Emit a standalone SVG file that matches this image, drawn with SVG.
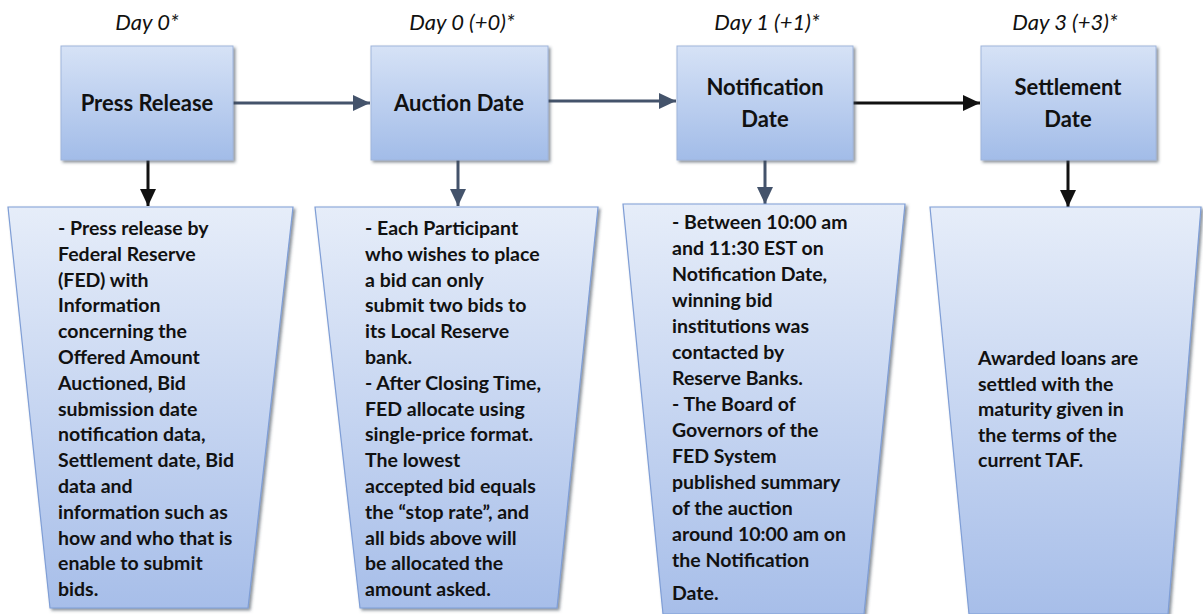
<svg xmlns="http://www.w3.org/2000/svg" width="1203" height="614" viewBox="0 0 1203 614">
<defs>
<linearGradient id="gBox" x1="0" y1="0" x2="0" y2="1">
<stop offset="0" stop-color="#d6e2f6"/>
<stop offset="1" stop-color="#a2bce8"/>
</linearGradient>
<linearGradient id="gTrap" x1="0" y1="0" x2="0" y2="1">
<stop offset="0" stop-color="#e6edf9"/>
<stop offset="1" stop-color="#a7bee9"/>
</linearGradient>
<filter id="sh" x="-10%" y="-10%" width="125%" height="125%">
<feDropShadow dx="2" dy="2" stdDeviation="1.5" flood-color="#3d4654" flood-opacity="0.6"/>
</filter>
<marker id="ahS" markerUnits="userSpaceOnUse" markerWidth="18" markerHeight="18" viewBox="0 0 18 18" refX="17" refY="9" orient="auto">
<path d="M0,1 L17,9 L0,17 Z" fill="#44536b"/>
</marker>
<marker id="ahK" markerUnits="userSpaceOnUse" markerWidth="18" markerHeight="18" viewBox="0 0 18 18" refX="17" refY="9" orient="auto">
<path d="M0,1 L17,9 L0,17 Z" fill="#111"/>
</marker>
</defs>
<style>
.day{font-family:Lato,"Liberation Sans",sans-serif;font-style:italic;font-size:22px;fill:#111;text-anchor:middle}
.ttl{font-family:Lato,"Liberation Sans",sans-serif;font-weight:bold;font-size:22px;fill:#111;text-anchor:middle}
.box{fill:url(#gBox);stroke:#9fb5dc;stroke-width:1;filter:url(#sh)}
.trap{fill:url(#gTrap);stroke:#7f9ed6;stroke-width:1.2;filter:url(#sh)}
.txt{font-family:Lato,"Liberation Sans",sans-serif;font-weight:bold;font-size:19.5px;fill:#111}
.cs{stroke:#44536b;stroke-width:3;fill:none;marker-end:url(#ahS)}
.ck{stroke:#111;stroke-width:3;fill:none;marker-end:url(#ahK)}
</style>
<rect width="1203" height="614" fill="#fff"/>

<g id="labels">
<text class="day" x="147" y="30">Day 0*</text>
<text class="day" x="462" y="30">Day 0 (+0)*</text>
<text class="day" x="767" y="30">Day 1 (+1)*</text>
<text class="day" x="1065" y="30">Day 3 (+3)*</text>
</g>

<g id="connectors">
<line class="cs" x1="233" y1="103" x2="370" y2="103"/>
<line class="cs" x1="548" y1="101" x2="676" y2="101"/>
<line class="ck" x1="853" y1="103" x2="980" y2="103"/>
<line class="ck" x1="148" y1="160" x2="148" y2="206"/>
<line class="cs" x1="458" y1="160" x2="458" y2="206"/>
<line class="cs" x1="765" y1="160" x2="765" y2="204"/>
<line class="ck" x1="1068" y1="160" x2="1068" y2="207"/>
</g>

<g id="press-release">
<rect class="box" x="61" y="46" width="172" height="114"/>
<text class="ttl" x="147" y="111">Press Release</text>
</g>
<g id="auction-date">
<rect class="box" x="371" y="46" width="177" height="114"/>
<text class="ttl" x="459" y="111">Auction Date</text>
</g>
<g id="notification-date">
<rect class="box" x="677" y="46" width="176" height="114"/>
<text class="ttl" x="765" y="95">Notification</text>
<text class="ttl" x="765" y="127">Date</text>
</g>
<g id="settlement-date">
<rect class="box" x="981" y="46" width="175" height="114"/>
<text class="ttl" x="1068" y="95">Settlement</text>
<text class="ttl" x="1068" y="127">Date</text>
</g>

<g id="press-release-detail">
<polygon class="trap" points="8,207 293,207 248,608 50,608"/>
<text class="txt" x="58" y="235">
<tspan x="58">- Press release by</tspan>
<tspan x="58" dy="25.8">Federal Reserve</tspan>
<tspan x="58" dy="25.8">(FED) with</tspan>
<tspan x="58" dy="25.8">Information</tspan>
<tspan x="58" dy="25.8">concerning the</tspan>
<tspan x="58" dy="25.8">Offered Amount</tspan>
<tspan x="58" dy="25.8">Auctioned, Bid</tspan>
<tspan x="58" dy="25.8">submission date</tspan>
<tspan x="58" dy="25.8">notification data,</tspan>
<tspan x="58" dy="25.8">Settlement date, Bid</tspan>
<tspan x="58" dy="25.8">data and</tspan>
<tspan x="58" dy="25.8">information such as</tspan>
<tspan x="58" dy="25.8">how and who that is</tspan>
<tspan x="58" dy="25.8">enable to submit</tspan>
<tspan x="58" dy="25.8">bids.</tspan>
</text>
</g>

<g id="auction-date-detail">
<polygon class="trap" points="315,207 598,207 557,608 360,608"/>
<text class="txt" x="365" y="235">
<tspan x="365">- Each Participant</tspan>
<tspan x="365" dy="25.8">who wishes to place</tspan>
<tspan x="365" dy="25.8">a bid can only</tspan>
<tspan x="365" dy="25.8">submit two bids to</tspan>
<tspan x="365" dy="25.8">its Local Reserve</tspan>
<tspan x="365" dy="25.8">bank.</tspan>
<tspan x="365" dy="25.8">- After Closing Time,</tspan>
<tspan x="365" dy="25.8">FED allocate using</tspan>
<tspan x="365" dy="25.8">single-price format.</tspan>
<tspan x="365" dy="25.8">The lowest</tspan>
<tspan x="365" dy="25.8">accepted bid equals</tspan>
<tspan x="365" dy="25.8">the “stop rate”, and</tspan>
<tspan x="365" dy="25.8">all bids above will</tspan>
<tspan x="365" dy="25.8">be allocated the</tspan>
<tspan x="365" dy="25.8">amount asked.</tspan>
</text>
</g>

<g id="notification-date-detail">
<polygon class="trap" points="623,204 905,204 864,614 663,614"/>
<text class="txt" x="672" y="229">
<tspan x="672">- Between 10:00 am</tspan>
<tspan x="672" dy="26">and 11:30 EST on</tspan>
<tspan x="672" dy="26">Notification Date,</tspan>
<tspan x="672" dy="26">winning bid</tspan>
<tspan x="672" dy="26">institutions was</tspan>
<tspan x="672" dy="26">contacted by</tspan>
<tspan x="672" dy="26">Reserve Banks.</tspan>
<tspan x="672" dy="26">- The Board of</tspan>
<tspan x="672" dy="26">Governors of the</tspan>
<tspan x="672" dy="26">FED System</tspan>
<tspan x="672" dy="26">published summary</tspan>
<tspan x="672" dy="26">of the auction</tspan>
<tspan x="672" dy="26">around 10:00 am on</tspan>
<tspan x="672" dy="26">the Notification</tspan>
<tspan x="672" dy="33">Date.</tspan>
</text>
</g>

<g id="settlement-date-detail">
<polygon class="trap" points="930,207 1201,207 1168,614 969,614"/>
<text class="txt" x="978" y="365">
<tspan x="978">Awarded loans are</tspan>
<tspan x="978" dy="25.6">settled with the</tspan>
<tspan x="978" dy="25.6">maturity given in</tspan>
<tspan x="978" dy="25.6">the terms of the</tspan>
<tspan x="978" dy="25.6">current TAF.</tspan>
</text>
</g>
</svg>
